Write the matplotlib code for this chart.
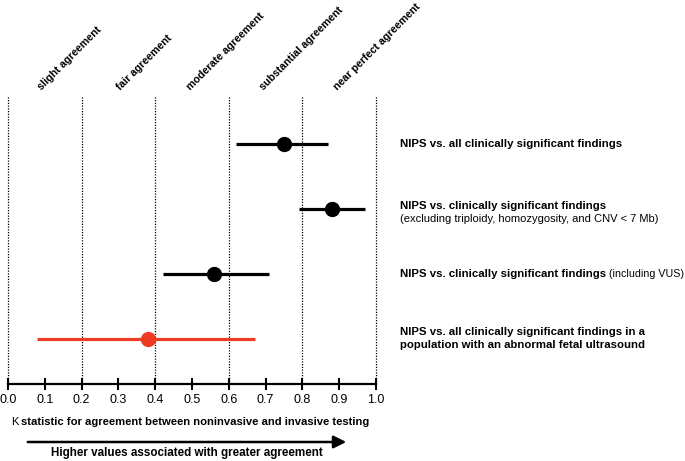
import matplotlib
matplotlib.use('Agg')
import matplotlib.pyplot as plt
from matplotlib.transforms import blended_transform_factory

plt.rcParams['font.family'] = ['Liberation Sans', 'DejaVu Sans']

# data
kappa = [0.75, 0.88, 0.56, 0.38]
ci_low = [0.62, 0.79, 0.42, 0.08]
ci_high = [0.87, 0.97, 0.71, 0.67]
colors = ['black', 'black', 'black', '#EE3B24']
labels_bold = ['NIPS vs. all clinically significant findings',
               'NIPS vs. clinically significant findings',
               'NIPS vs. clinically significant findings',
               'NIPS vs. all clinically significant findings in a\npopulation with an abnormal fetal ultrasound']
labels_extra = ['', '(excluding triploidy, homozygosity, and CNV < 7 Mb)', ' (including VUS)', '']
bands = ['slight agreement', 'fair agreement', 'moderate agreement',
         'substantial agreement', 'near perfect agreement']
band_pos = [0.094, 0.309, 0.499, 0.699, 0.899]
ticks = [0.0, 0.1, 0.2, 0.3, 0.4, 0.5, 0.6, 0.7, 0.8, 0.9, 1.0]

fig = plt.figure(figsize=(6.85, 4.61), dpi=100)
ax = fig.add_axes([8/685, 77/461, 368/685, 288/461])

rows = list(range(1, len(kappa) + 1))
for y, k, lo, hi, c in zip(rows, kappa, ci_low, ci_high, colors):
    ax.plot([lo, hi], [y, y], color=c, lw=2.3, solid_capstyle='butt', zorder=3)
    ax.plot(k, y, 'o', color=c, ms=10, zorder=4)

for g in [0.0, 0.2, 0.4, 0.6, 0.8, 1.0]:
    ax.axvline(g, color='black', ls=(0, (1, 1.2)), lw=0.9, zorder=1, clip_on=False)

ax.set_xlim(0, 1.0)
ax.set_ylim(4.7, 0.26)
ax.set_yticks([])
ax.set_xticks(ticks)
ax.set_xticklabels([f'{t:.1f}' for t in ticks], fontsize=9)
ax.tick_params(axis='x', direction='inout', length=8, width=1.5, pad=3)
for s in ['left', 'right', 'top']:
    ax.spines[s].set_visible(False)
ax.spines['bottom'].set_linewidth(1.6)

# category labels at top
tr = blended_transform_factory(ax.transData, ax.transAxes)
for b, p in zip(bands, band_pos):
    ax.text(p, 1.014, b, transform=tr, rotation=45, rotation_mode='anchor',
            ha='left', va='bottom', fontsize=7.7, fontweight='bold')

# row labels on the right
lx = 1.065
for y, lb, le in zip(rows, labels_bold, labels_extra):
    if le.startswith('('):
        ax.text(lx, y - 0.05, lb, fontsize=8.2, fontweight='bold', ha='left', va='center', clip_on=False)
        ax.text(lx, y + 0.16, le, fontsize=8, ha='left', va='center', clip_on=False)
    else:
        t = ax.text(lx, y, lb, fontsize=8.2, fontweight='bold', ha='left', va='center',
                    clip_on=False, linespacing=1.45)
        if le:
            ax.annotate(le, xy=(1, 0), xycoords=t, ha='left', va='bottom', fontsize=7.7)

# x label with regular K
fig.text(21/685, 1 - 422/461, 'statistic for agreement between noninvasive and invasive testing',
         fontsize=8.1, fontweight='bold', ha='left', va='center')
fig.text(19/685, 1 - 422/461, 'K', fontsize=8.1, ha='right', va='center')

# arrow
fig.patches.append(matplotlib.patches.FancyArrowPatch(
    (25/685, 1 - 442/461), (349/685, 1 - 442/461), transform=fig.transFigure,
    arrowstyle='-|>,head_length=5,head_width=2.5', lw=1.8, color='black', mutation_scale=1.5))
fig.text(187/685, 1 - 453/461, 'Higher values associated with greater agreement',
         fontsize=8.4, fontweight='bold', ha='center', va='center')

fig.savefig('out.png', dpi=100)
